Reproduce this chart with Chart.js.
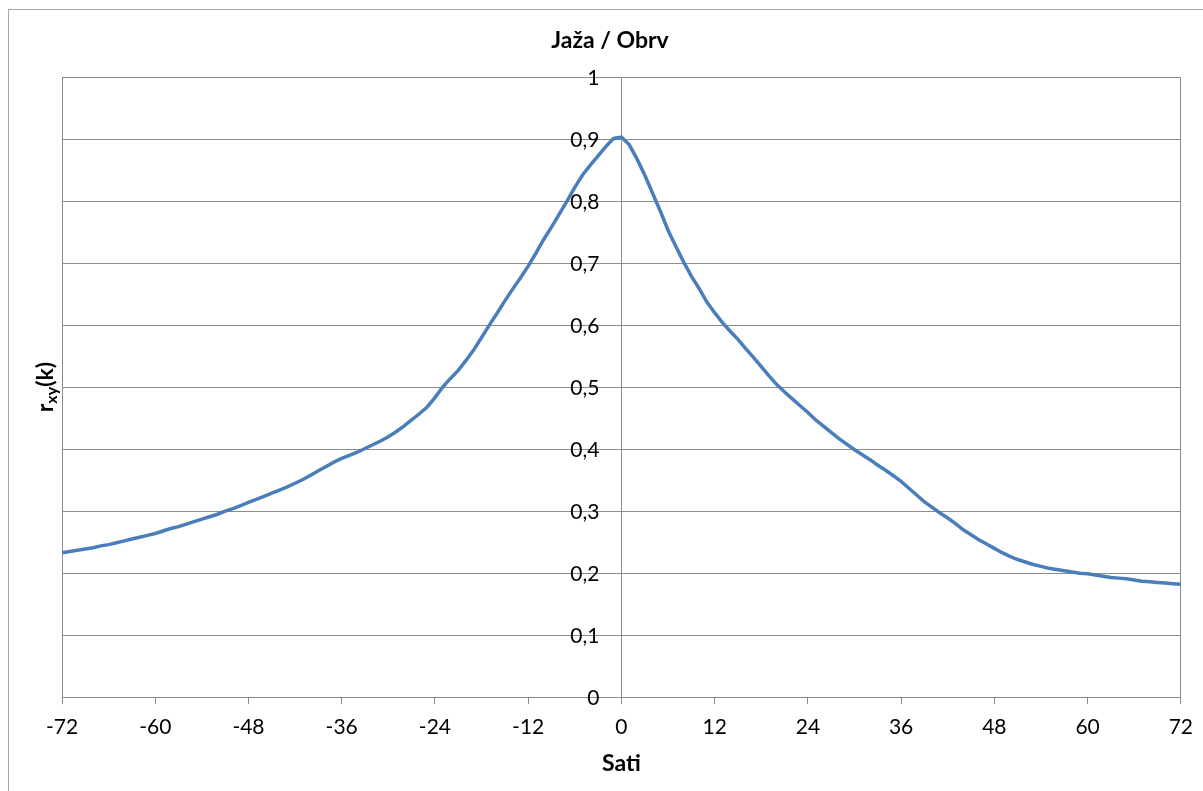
<!DOCTYPE html>
<html>
<head>
<meta charset="utf-8">
<script src="https://cdn.jsdelivr.net/npm/chart.js@4"></script>
<style>
  body { margin: 0; background: #fff; }
</style>
</head>
<body>
<canvas id="myChart" width="1203" height="791"></canvas>
<script>
// lag in hours
const hours = [];
for (let h = -72; h <= 72; h++) hours.push(h);

// r_xy(k), one value per hour
const rxy = [
  0.233, 0.235, 0.237, 0.239, 0.241, 0.244, 0.246, 0.249, 0.252, 0.255,
  0.258, 0.261, 0.264, 0.268, 0.272, 0.275, 0.279, 0.283, 0.287, 0.291,
  0.295, 0.300, 0.304, 0.309, 0.314, 0.319, 0.324, 0.329, 0.334, 0.339,
  0.345, 0.351, 0.358, 0.365, 0.372, 0.379, 0.385, 0.390, 0.395, 0.401,
  0.407, 0.413, 0.420, 0.428, 0.437, 0.447, 0.457, 0.468, 0.483, 0.500,
  0.514, 0.527, 0.543, 0.560, 0.580, 0.600, 0.619, 0.639, 0.658, 0.676,
  0.695, 0.716, 0.738, 0.758, 0.779, 0.800, 0.822, 0.842, 0.858, 0.873,
  0.888, 0.901, 0.903, 0.891, 0.868, 0.842, 0.813, 0.784, 0.753, 0.727,
  0.702, 0.679, 0.659, 0.637, 0.620, 0.604, 0.590, 0.577, 0.562, 0.548,
  0.533, 0.518, 0.504, 0.492, 0.481, 0.470, 0.459, 0.447, 0.437, 0.427,
  0.417, 0.408, 0.399, 0.391, 0.383, 0.374, 0.366, 0.357, 0.348, 0.337,
  0.326, 0.315, 0.306, 0.297, 0.289, 0.280, 0.270, 0.262, 0.254, 0.247,
  0.240, 0.233, 0.227, 0.222, 0.218, 0.214, 0.211, 0.208, 0.206, 0.204,
  0.202, 0.200, 0.199, 0.197, 0.195, 0.193, 0.192, 0.191, 0.189, 0.187,
  0.186, 0.185, 0.184, 0.183, 0.182
];

const chartTitle = 'Jaža / Obrv';
const xTitle = 'Sati';
const xMin = -72, xMax = 72, xStep = 12;
const yMin = 0, yMax = 1, yStep = 0.1;

const FONT = 'Lato, "Open Sans", sans-serif';
const GRID = '#8c8c8c';

const points = hours.map(function (h, i) {
  return { x: h, y: rxy[i] };
});

function yLabel(v) {
  return (Math.round(v * 10) / 10).toString().replace('.', ',');
}

// frame, chart title, y tick labels beside the centred axis, r_xy(k) title
const extras = {
  id: 'extras',
  beforeDraw(chart) {
    const c = chart.ctx;
    c.save();
    c.fillStyle = '#fff';
    c.fillRect(0, 0, chart.width, chart.height);
    c.strokeStyle = '#a6a6a6';
    c.lineWidth = 1;
    c.strokeRect(8.5, 9.5, chart.width, chart.height);
    c.restore();
  },
  afterDraw(chart) {
    const c = chart.ctx;
    const area = chart.chartArea;
    const ys = chart.scales.y;
    const axisX = chart.scales.x.getPixelForValue(0);

    c.save();
    c.fillStyle = '#000';

    // title
    c.font = 'bold 23px ' + FONT;
    c.textAlign = 'center';
    c.textBaseline = 'middle';
    c.fillText(chartTitle, 610, 41);

    // y tick labels
    c.font = '21px ' + FONT;
    c.textAlign = 'right';
    ys.ticks.forEach(function (t) {
      c.fillText(yLabel(t.value), axisX - 22, ys.getPixelForValue(t.value) + 1);
    });

    // y axis title r_xy(k)
    c.translate(46, (area.top + area.bottom) / 2);
    c.rotate(-Math.PI / 2);
    c.textAlign = 'left';
    const big = 'bold 23px ' + FONT;
    const small = 'bold 16px ' + FONT;
    c.font = big;
    const w1 = c.measureText('r').width;
    const w3 = c.measureText('(k)').width;
    c.font = small;
    const w2 = c.measureText('xy').width;
    let x = -(w1 + w2 + w3) / 2;
    c.font = big;
    c.fillText('r', x, 0);
    x += w1;
    c.font = small;
    c.fillText('xy', x, 6);
    x += w2;
    c.font = big;
    c.fillText('(k)', x, 0);
    c.restore();
  }
};

const config = {
  type: 'line',
  data: {
    datasets: [{
      label: 'r_xy(k)',
      data: points,
      borderColor: '#4a7ebb',
      backgroundColor: '#4a7ebb',
      borderWidth: 3.5,
      pointRadius: 0,
      tension: 0
    }]
  },
  options: {
    responsive: false,
    animation: false,
    devicePixelRatio: 1,
    layout: {
      padding: { left: 62, right: 20, top: 77, bottom: 5 }
    },
    plugins: {
      legend: { display: false },
      tooltip: { enabled: false },
      title: { display: false }
    },
    scales: {
      x: {
        type: 'linear',
        min: xMin,
        max: xMax,
        ticks: {
          stepSize: xStep,
          color: '#000',
          font: { family: FONT, size: 21 },
          padding: 10,
          maxRotation: 0
        },
        grid: {
          color: function (ctx) {
            const v = ctx.tick ? ctx.tick.value : null;
            return (v === xMin || v === xMax) ? GRID : 'rgba(0,0,0,0)';
          },
          tickColor: GRID,
          tickLength: 7,
          drawTicks: true
        },
        border: { color: GRID },
        title: {
          display: true,
          text: xTitle,
          color: '#000',
          font: { family: FONT, size: 23, weight: 'bold' },
          padding: { top: 0, bottom: 9 }
        }
      },
      y: {
        position: { x: 0 },
        min: yMin,
        max: yMax,
        ticks: {
          stepSize: yStep,
          display: false
        },
        grid: {
          color: GRID,
          drawTicks: false
        },
        border: { color: GRID }
      }
    }
  },
  plugins: [extras]
};

new Chart(document.getElementById('myChart'), config);
</script>
</body>
</html>
